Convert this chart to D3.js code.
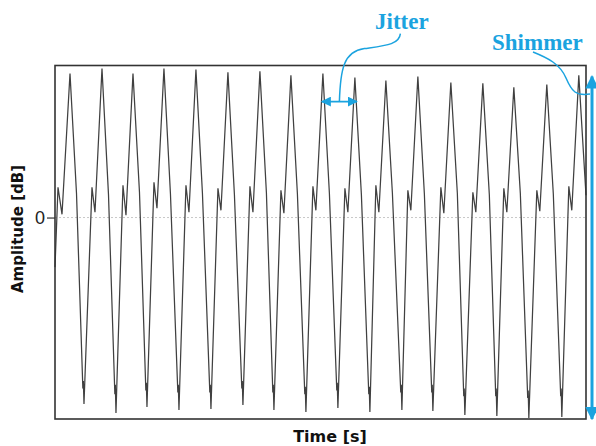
<!DOCTYPE html>
<html><head><meta charset="utf-8">
<script src="https://cdn.jsdelivr.net/npm/d3@7"></script>
<style>body{margin:0;background:#fff}svg{display:block}</style>
</head><body>
<script>
// Time in ms, amplitude in dB (arbitrary reference)
const startPoint = [0, -2.61];
const endPoint = [166, 1.17];
const peakTime = [4.69,14.69,24.38,34.06,44.06,54.06,64.06,73.75,83.75,93.75,103.44,113.44,123.75,133.75,143.44,153.75,163.75];
const peakAmp  = [7.58,7.84,7.58,7.84,7.79,7.64,7.69,7.48,7.58,7.37,7.21,7.42,7.11,7.06,6.85,7.0,7.48];
const kinkTime = [6.72,16.72,26.41,36.09,46.09,56.09,66.09,75.78,85.78,95.78,105.47,115.47,125.78,135.78,145.47,155.78];
const kinkAmp  = [1.28,1.22,1.33,1.25,1.28,1.2,1.3,1.25,1.28,1.22,1.3,1.25,1.28,1.2,1.28,1.25];
const shoulderTime = [8.71,18.71,28.40,38.40,48.40,58.40,68.09,78.09,88.09,98.09,108.09,117.78,127.78,137.78,147.78,158.09];
const shoulderAmp  = [-9.0,-9.3,-9.1,-9.2,-9.2,-9.0,-9.2,-9.3,-9.1,-9.3,-9.2,-9.2,-9.4,-9.4,-9.5,-9.4];
const reboundTime = [8.86,18.86,28.55,38.55,48.55,58.55,68.24,78.24,88.24,98.24,108.24,117.93,127.93,137.93,147.93,158.24];
const reboundAmp  = [-8.6,-8.8,-8.7,-8.8,-8.8,-8.6,-8.8,-8.9,-8.7,-8.9,-8.8,-8.8,-9.0,-9.0,-9.1,-9.0];
const troughTime = [9.06,19.06,28.75,38.75,48.75,58.75,68.44,78.44,88.44,98.44,108.44,118.13,128.13,138.13,148.13,158.44];
const troughAmp  = [-9.81,-10.28,-9.97,-10.13,-10.07,-9.86,-10.13,-10.23,-10.02,-10.23,-10.13,-10.18,-10.39,-10.44,-10.55,-10.49];
const bumpTime = [0.94,11.56,21.25,30.94,40.94,50.94,60.94,70.63,80.63,90.63,100.31,110.31,120.63,130.63,140.31,150.63,160.63];
const bumpAmp  = [1.59,1.59,1.70,1.85,1.70,1.54,1.64,1.43,1.64,1.54,1.70,1.43,1.59,1.33,1.54,1.43,1.64];
const dipTime = [2.19,12.5,22.19,31.88,41.88,51.88,61.88,71.56,81.56,91.56,101.25,111.25,121.56,131.56,141.25,151.56,161.56];
const dipAmp  = [0.17,0.28,0.12,0.49,0.28,0.38,0.28,0.23,0.38,0.28,0.28,0.38,0.23,0.28,0.28,0.33,0.38];
const yTicks = [0];
const jitterPeaks = [8, 9];

const W = 596, H = 446;
const L = 55, R = 586, T = 65.5, B = 419;
const blue = "#1ba3df";

const svg = d3.select("body").append("svg").attr("width", W).attr("height", H);
const x = d3.scaleLinear().domain([0, 166]).range([L, R]);
const y = d3.scaleLinear().domain([-10.6, 8]).range([B, T]);

// assemble waveform points
const pts = [startPoint, endPoint];
const add = (ts, as) => ts.forEach((t,i)=>pts.push([t, as[i]]));
add(peakTime, peakAmp); add(kinkTime, kinkAmp); add(shoulderTime, shoulderAmp);
add(reboundTime, reboundAmp); add(troughTime, troughAmp); add(bumpTime, bumpAmp); add(dipTime, dipAmp);
pts.sort((a,b)=>a[0]-b[0]);

// zero line
svg.append("line").attr("x1", L).attr("x2", R).attr("y1", y(0)).attr("y2", y(0))
  .attr("stroke", "#c8c8c8").attr("stroke-width", 1).attr("stroke-dasharray", "2,2");

svg.append("path").datum(pts)
  .attr("d", d3.line().x(d=>x(d[0])).y(d=>y(d[1])))
  .attr("fill", "none").attr("stroke", "#404040").attr("stroke-width", 1.25)
  .attr("stroke-linejoin", "miter");

// frame
svg.append("rect").attr("x", L).attr("y", T).attr("width", R-L).attr("height", B-T)
  .attr("fill", "none").attr("stroke", "#333").attr("stroke-width", 1.6);

// y axis tick
const yAxis = d3.axisLeft(y).tickValues(yTicks).tickFormat(d3.format("d")).tickSize(8).tickPadding(2);
const ga = svg.append("g").attr("transform", `translate(${L},0)`).call(yAxis);
ga.select(".domain").remove();
ga.selectAll("line").attr("stroke", "#333").attr("stroke-width", 1.2);
ga.selectAll("text").attr("font-family", "Liberation Sans, Arial, sans-serif").attr("font-size", 18).attr("fill", "#222");

// axis labels
svg.append("text").attr("x", 330).attr("y", 442).attr("text-anchor", "middle")
  .attr("font-family", "DejaVu Sans, Verdana, sans-serif").attr("font-weight", "bold").attr("font-size", 16)
  .attr("fill", "#111").text("Time [s]");
svg.append("text").attr("transform", "translate(23,229) rotate(-90)").attr("text-anchor", "middle")
  .attr("font-family", "DejaVu Sans, Verdana, sans-serif").attr("font-weight", "bold").attr("font-size", 15)
  .attr("fill", "#111").text("Amplitude [dB]");

// arrow markers
const defs = svg.append("defs");
defs.append("marker").attr("id", "ah").attr("viewBox", "0 0 10 10").attr("refX", 9).attr("refY", 5)
  .attr("markerWidth", 10).attr("markerHeight", 10).attr("markerUnits", "userSpaceOnUse").attr("orient", "auto-start-reverse")
  .append("path").attr("d", "M0,0 L10,5 L0,10 Z").attr("fill", blue);
defs.append("marker").attr("id", "ah2").attr("viewBox", "0 0 10 10").attr("refX", 9).attr("refY", 5)
  .attr("markerWidth", 4.5).attr("markerHeight", 4.5).attr("orient", "auto-start-reverse")
  .append("path").attr("d", "M0,0 L10,5 L0,10 Z").attr("fill", blue);

// Jitter arrow between two peaks
const jy = y(6.1);
const jx1 = x(peakTime[jitterPeaks[0]]) - 1, jx2 = x(peakTime[jitterPeaks[1]]) + 2;
svg.append("line").attr("x1", jx1).attr("x2", jx2).attr("y1", jy).attr("y2", jy)
  .attr("stroke", blue).attr("stroke-width", 1.8)
  .attr("marker-start", "url(#ah)").attr("marker-end", "url(#ah)");
const jm = (jx1 + jx2) / 2;
svg.append("path").attr("d", `M${jm},${jy} C${jm+1},${jy-32} ${jm+4},${jy-50} ${jm+25},${jy-53} S${jm+60},${jy-57} ${jm+61},${jy-68}`)
  .attr("fill", "none").attr("stroke", blue).attr("stroke-width", 1.5);
svg.append("text").attr("x", 375).attr("y", 29)
  .attr("font-family", "Liberation Serif, Times New Roman, serif").attr("font-weight", "bold").attr("font-size", 23)
  .attr("fill", blue).text("Jitter");

// Shimmer arrow
const sx = 592;
svg.append("line").attr("x1", sx).attr("x2", sx).attr("y1", y(peakAmp[16]) + 1).attr("y2", B)
  .attr("stroke", blue).attr("stroke-width", 3)
  .attr("marker-start", "url(#ah2)").attr("marker-end", "url(#ah2)");
svg.append("path").attr("d", "M533,52 C548,58 560,64 566,78 S576,96 590,94")
  .attr("fill", "none").attr("stroke", blue).attr("stroke-width", 1.5);
svg.append("text").attr("x", 492).attr("y", 50)
  .attr("font-family", "Liberation Serif, Times New Roman, serif").attr("font-weight", "bold").attr("font-size", 23)
  .attr("fill", blue).text("Shimmer");
</script>
</body></html>
